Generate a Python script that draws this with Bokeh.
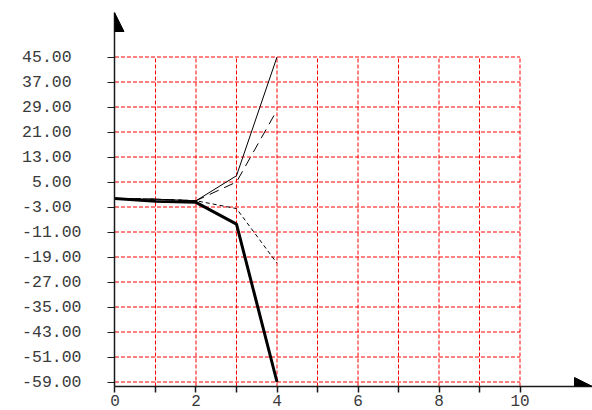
from bokeh.plotting import figure
from bokeh.models import Range1d, FixedTicker, Arrow, NormalHead, ColumnDataSource
from bokeh.embed import file_html
from bokeh.resources import INLINE

# ---- data ----
x_vals = [0, 1, 2, 3, 4]
thick_line = [-0.3, -1.2, -1.5, -8.5, -59]
thin_line = [-0.3, -0.5, -1.0, 7, 45]
long_dash_line = [-0.3, -0.5, -1.0, 5, 28]
short_dash_line = [-0.3, -0.5, -1.0, -3.5, -21]

y_ticks = [-59, -51, -43, -35, -27, -19, -11, -3, 5, 13, 21, 29, 37, 45]
x_major_ticks = [0, 2, 4, 6, 8, 10]
x_minor_ticks = [1, 3, 5, 7, 9]
x_grid = [1, 2, 3, 4, 5, 6, 7, 8, 9, 10]

X_START, X_END = -0.0123, 11.790
Y_START, Y_END = -60.44, 59.24

NBSP = "\u00a0"
# labels formatted to a fixed width of 5, drawn from a common left edge
y_labels = {t: f"{t:5.2f}".replace(" ", NBSP).ljust(6, NBSP) for t in y_ticks}

p = figure(width=592, height=410, output_backend="svg", toolbar_location=None,
           x_range=Range1d(X_START, X_END), y_range=Range1d(Y_START, Y_END),
           min_border_left=114, min_border_right=0, min_border_top=12, min_border_bottom=24)
p.outline_line_color = None
p.xgrid.visible = False
p.ygrid.visible = False
p.background_fill_color = "white"
p.border_fill_color = "white"

FONT = "Liberation Mono"
LABEL_COLOR = "#3a3a3a"
AXIS_COLOR = "#1a1a1a"

ya = p.yaxis[0]
ya.ticker = FixedTicker(ticks=y_ticks, minor_ticks=[])
ya.major_label_overrides = y_labels
ya.major_tick_out = 7
ya.major_tick_in = 0
ya.minor_tick_out = 0
ya.minor_tick_in = 0
ya.major_label_standoff = 26
ya.major_label_text_font = FONT
ya.major_label_text_font_size = "16.5px"
ya.major_label_text_color = LABEL_COLOR
ya.axis_line_color = AXIS_COLOR
ya.axis_line_width = 1.5
ya.major_tick_line_color = AXIS_COLOR
ya.major_tick_line_width = 1.2

xa = p.xaxis[0]
xa.ticker = FixedTicker(ticks=x_major_ticks, minor_ticks=x_minor_ticks)
xa.major_tick_out = 6
xa.major_tick_in = 0
xa.minor_tick_out = 6
xa.minor_tick_in = 0
xa.major_label_standoff = 2
xa.major_label_text_font = FONT
xa.major_label_text_font_size = "16px"
xa.major_label_text_color = LABEL_COLOR
xa.axis_line_color = AXIS_COLOR
xa.axis_line_width = 1.5
xa.major_tick_line_color = AXIS_COLOR
xa.major_tick_line_width = 1.5
xa.minor_tick_line_color = AXIS_COLOR
xa.minor_tick_line_width = 1.5

# ---- grid (limited to 0..10 and up to the top tick) ----
hsrc = ColumnDataSource(dict(x0=[x_grid[0] - 1] * len(y_ticks), x1=[x_grid[-1]] * len(y_ticks),
                             y=y_ticks))
p.segment(x0="x0", y0="y", x1="x1", y1="y", source=hsrc,
          line_color="#ff0000", line_width=1, line_dash="4 2")
vsrc = ColumnDataSource(dict(x=x_grid, y0=[Y_START] * len(x_grid), y1=[max(y_ticks)] * len(x_grid)))
p.segment(x0="x", y0="y0", x1="x", y1="y1", source=vsrc,
          line_color="#ff0000", line_width=1, line_dash="4 2")

# ---- series ----
p.line(x_vals, short_dash_line, line_color="black", line_width=1, line_dash="4 3")
p.line(x_vals, long_dash_line, line_color="black", line_width=1, line_dash="10 6")
p.line(x_vals, thin_line, line_color="black", line_width=1)
p.line(x_vals, thick_line, line_color="black", line_width=3)

# ---- axis arrows ----
p.add_layout(Arrow(end=NormalHead(size=19, fill_color="black", line_color="black"),
                   x_start=X_START, y_start=Y_START, x_end=X_START, y_end=Y_END,
                   line_alpha=0))
p.add_layout(Arrow(end=NormalHead(size=18, fill_color="black", line_color="black"),
                   x_start=X_START, y_start=Y_START, x_end=X_END, y_end=Y_START,
                   line_alpha=0))

open("out.html", "w").write(file_html(p, INLINE))
